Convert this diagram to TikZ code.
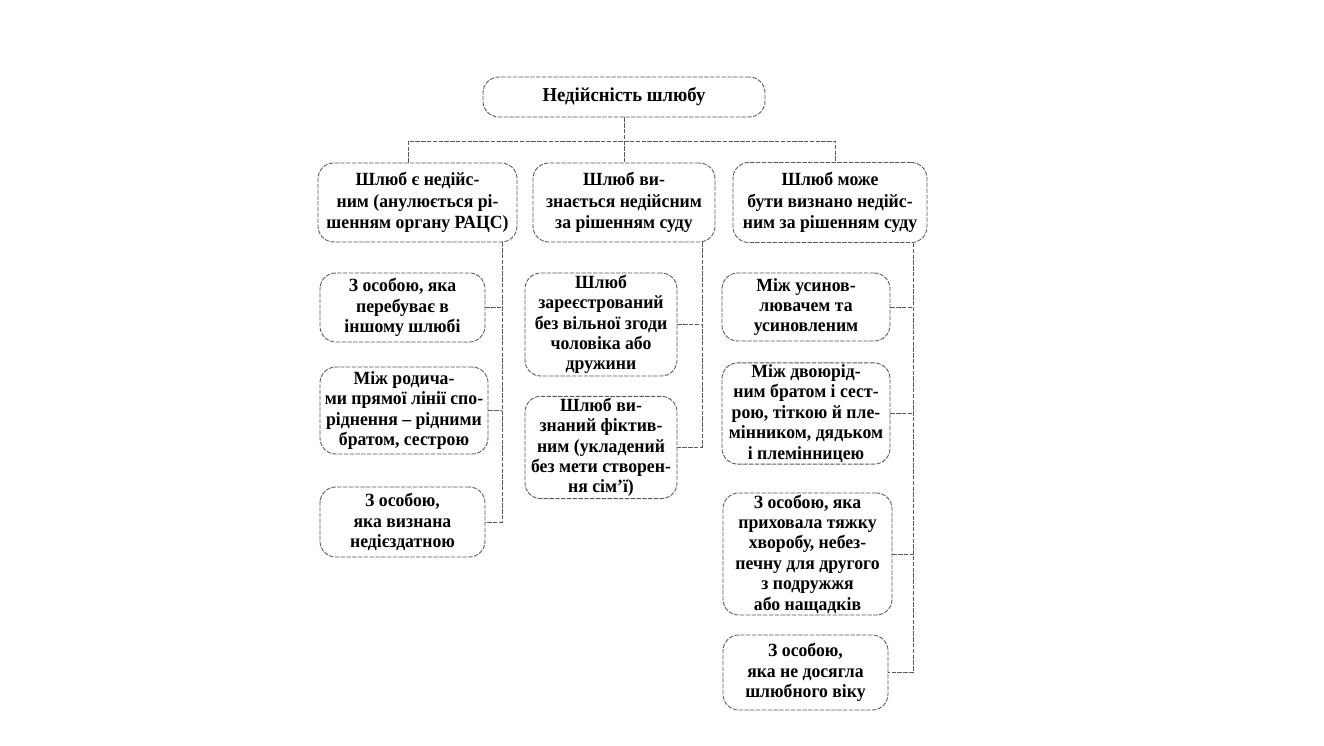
\documentclass[tikz,border=0pt]{standalone}
\usepackage{fontspec}
\setmainfont[FakeStretch=0.95]{Liberation Serif}
\tikzset{
  box/.style={draw=black!65, dash pattern=on 2.5pt off 0.8pt, line width=0.5pt,
    rounded corners=9pt, align=center, inner sep=1pt,
    font=\fontsize{10.6}{11.6}\selectfont\bfseries},
  link/.style={draw=black!65, dash pattern=on 2.5pt off 0.8pt, line width=0.5pt}
}
\begin{document}
\begin{tikzpicture}
  \useasboundingbox (0,0) rectangle (26.48,-14.90);
  % top
  \node[box, minimum width=5.64cm, minimum height=0.80cm, font=\fontsize{11.2}{12}\selectfont\bfseries] (title) at (12.48,-1.94) {Недійсність шлюбу};
  \node[box, minimum width=3.98cm, minimum height=1.58cm, font=\fontsize{10.6}{12.2}\selectfont\bfseries] (L) at (8.35,-4.05)
    {Шлюб є недійс-\\ним (анулюється рі-\\шенням органу РАЦС)};
  \node[box, minimum width=3.64cm, minimum height=1.58cm, font=\fontsize{10.6}{12.2}\selectfont\bfseries] (M) at (12.48,-4.05)
    {Шлюб ви-\\знається недійсним\\за рішенням суду};
  \node[box, minimum width=3.88cm, minimum height=1.60cm, font=\fontsize{10.6}{12.2}\selectfont\bfseries] (R) at (16.60,-4.05)
    {Шлюб може\\бути визнано недійс-\\ним за рішенням суду};
  % left column
  \node[box, minimum width=3.30cm, minimum height=1.38cm] (L1) at (8.05,-6.15)
    {З особою, яка\\перебуває в\\іншому шлюбі};
  \node[box, minimum width=3.36cm, minimum height=1.74cm] (L2) at (8.08,-8.21)
    {Між родича-\\ми прямої лінії спо-\\ріднення – рідними\\братом, сестрою};
  \node[box, minimum width=3.30cm, minimum height=1.40cm] (L3) at (8.05,-10.44)
    {З особою,\\яка визнана\\недієздатною};
  % middle column
  \node[box, minimum width=3.04cm, minimum height=2.06cm] (M1) at (12.02,-6.49)
    {Шлюб\\зареєстрований\\без вільної згоди\\чоловіка або\\дружини};
  \node[box, minimum width=3.04cm, minimum height=1.98cm] (M2) at (12.02,-8.95)
    {Шлюб ви-\\знаний фіктив-\\ним (укладений\\без мети створен-\\ня сім’ї)};
  % right column
  \node[box, minimum width=3.36cm, minimum height=1.36cm] (R1) at (16.12,-6.14)
    {Між усинов-\\лювачем та\\усиновленим};
  \node[box, minimum width=3.36cm, minimum height=1.86cm] (R2) at (16.12,-8.27)
    {Між двоюрід-\\ним братом і сест-\\рою, тіткою й пле-\\мінником, дядьком\\і племінницею};
  \node[box, minimum width=3.38cm, minimum height=2.44cm] (R3) at (16.15,-11.08)
    {З особою, яка\\приховала тяжку\\хворобу, небез-\\печну для другого\\з подружжя\\або нащадків};
  \node[box, minimum width=3.30cm, minimum height=1.50cm] (R4) at (16.11,-13.45)
    {З особою,\\яка не досягла\\шлюбного віку};
  % connectors
  \coordinate (busL) at (8.16,-2.82);
  \coordinate (busR) at (16.70,-2.82);
  \coordinate (tL) at (10.04,0);
  \coordinate (tM) at (14.04,0);
  \coordinate (tR) at (18.26,0);
  \draw[link] (title) -- (M);
  \draw[link] (L.north -| busL) -- (busL) -- (busR) -- (R.north -| busR);
  \draw[link] (L.south -| tL) |- (L3.east);
  \draw[link] (M.south -| tM) |- (M2.east);
  \draw[link] (R.south -| tR) |- (R4.east);
  \foreach \n in {L1,L2}
    \draw[link] (\n.east) -- (\n.east -| tL);
  \draw[link] (M1.east) -- (M1.east -| tM);
  \foreach \n in {R1,R2,R3}
    \draw[link] (\n.east) -- (\n.east -| tR);
\end{tikzpicture}
\end{document}
